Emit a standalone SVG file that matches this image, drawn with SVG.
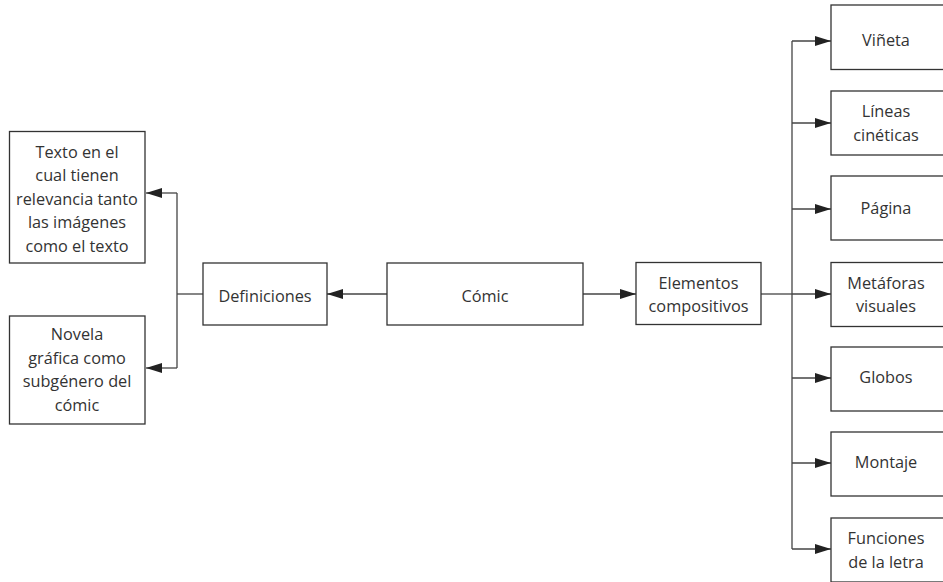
<svg xmlns="http://www.w3.org/2000/svg" width="943" height="582" viewBox="0 0 943 582">
<style>
.box{fill:#fff;stroke:#333;stroke-width:1.3}
.t{font-family:"Open Sans","Noto Sans",sans-serif;font-size:16.3px;fill:#333;text-anchor:middle}
.c{fill:none;stroke:#444;stroke-width:1.3}
</style>
<defs>
<marker id="ah" viewBox="0 0 16 10" refX="16" refY="5" markerWidth="16" markerHeight="10" markerUnits="userSpaceOnUse" orient="auto">
<path d="M0,0 L16,5 L0,10 Z" fill="#222"/>
</marker>
</defs>
<rect width="943" height="582" fill="#fff"/>
<g id="connectors">
<path class="c" d="M387,294 H327" marker-end="url(#ah)"/>
<path class="c" d="M583,294 H636" marker-end="url(#ah)"/>
<path class="c" d="M203,294 H177"/>
<path class="c" d="M177,193 V368"/>
<path class="c" d="M177,193 H146" marker-end="url(#ah)"/>
<path class="c" d="M177,368 H146" marker-end="url(#ah)"/>
<path class="c" d="M761,294 H792"/>
<path class="c" d="M792,41 V549"/>
<path class="c" d="M792,41 H831" marker-end="url(#ah)"/>
<path class="c" d="M792,123 H831" marker-end="url(#ah)"/>
<path class="c" d="M792,209 H831" marker-end="url(#ah)"/>
<path class="c" d="M792,294 H831" marker-end="url(#ah)"/>
<path class="c" d="M792,378 H831" marker-end="url(#ah)"/>
<path class="c" d="M792,463 H831" marker-end="url(#ah)"/>
<path class="c" d="M792,549 H831" marker-end="url(#ah)"/>
</g>
<g id="comic"><rect class="box" x="387" y="263" width="196" height="62"/><text class="t" x="485" y="301.5">Cómic</text></g>
<g id="definiciones"><rect class="box" x="203" y="263" width="124" height="62"/><text class="t" x="265" y="301.5">Definiciones</text></g>
<g id="def1"><rect class="box" x="9.5" y="131.5" width="135.5" height="131.5"/>
<text class="t" x="77" y="157.5">Texto en el</text>
<text class="t" x="77" y="181">cual tienen</text>
<text class="t" x="77" y="204.5">relevancia tanto</text>
<text class="t" x="77" y="228">las imágenes</text>
<text class="t" x="77" y="251.5">como el texto</text></g>
<g id="def2"><rect class="box" x="9.5" y="316" width="135.5" height="108"/>
<text class="t" x="77" y="340">Novela</text>
<text class="t" x="77" y="363.5">gráfica como</text>
<text class="t" x="77" y="387">subgénero del</text>
<text class="t" x="77" y="410.5">cómic</text></g>
<g id="elementos"><rect class="box" x="636" y="262.5" width="125" height="62"/>
<text class="t" x="698.5" y="288.5">Elementos</text>
<text class="t" x="698.5" y="312">compositivos</text></g>
<g id="vineta"><rect class="box" x="831" y="5" width="120" height="64.5"/><text class="t" x="886" y="46">Viñeta</text></g>
<g id="lineas"><rect class="box" x="831" y="91" width="120" height="64"/><text class="t" x="886" y="117">Líneas</text><text class="t" x="886" y="141">cinéticas</text></g>
<g id="pagina"><rect class="box" x="831" y="176" width="120" height="64"/><text class="t" x="886" y="213.5">Página</text></g>
<g id="metaforas"><rect class="box" x="831" y="262.5" width="120" height="64"/><text class="t" x="886" y="288.5">Metáforas</text><text class="t" x="886" y="312">visuales</text></g>
<g id="globos"><rect class="box" x="831" y="347" width="120" height="64"/><text class="t" x="886" y="383">Globos</text></g>
<g id="montaje"><rect class="box" x="831" y="432" width="120" height="64"/><text class="t" x="886" y="468">Montaje</text></g>
<g id="funciones"><rect class="box" x="831" y="518" width="120" height="64"/><text class="t" x="886" y="543.5">Funciones</text><text class="t" x="886" y="568">de la letra</text></g>
</svg>
